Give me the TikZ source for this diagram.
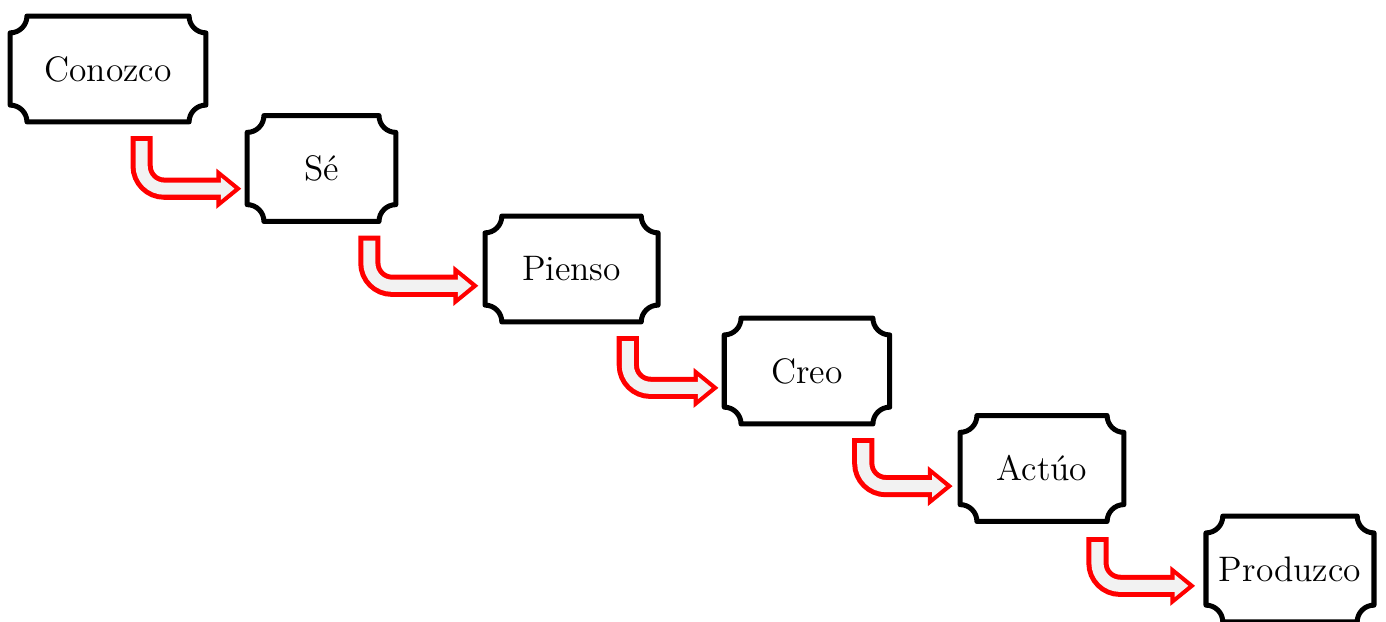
\documentclass[tikz,border=0pt]{standalone}
\usepackage{fontspec}
\usepackage{xcolor}
\usepackage{tikz}
\usetikzlibrary{arrows.meta, positioning}
\tikzset{
    etapa/.style={minimum height=1.26cm, inner sep=0pt, outer sep=0pt, font=\large}, % box holding each step
    borde/.style={draw=black, line width=1.7pt, line join=round}, % concave-cornered outline
}
\tikzstyle{flecha} = [draw=red, line width=7.5pt, line cap=rect, rounded corners=0.27cm,
    -{Triangle[length=8.4pt, width=13.6pt, line width=0pt]},
    postaction={draw=gray!10, line width=4.1pt, shorten >=2.3pt,
        -{Triangle[length=4.6pt, width=7.6pt, line width=0pt]}}]

\begin{document}
\begin{tikzpicture}
    \useasboundingbox (0,0) rectangle (16.5,-7.393);

    \node[etapa, minimum width=2.33cm] (A) at (1.286,-0.821) {Conozco};
    \node[etapa, minimum width=1.77cm] (B) at (3.827,-2.006) {Sé};
    \node[etapa, minimum width=2.06cm] (C) at (6.804,-3.202) {Pienso};
    \node[etapa, minimum width=1.97cm] (D) at (9.607,-4.417) {Creo};
    \node[etapa, minimum width=1.95cm] (E) at (12.405,-5.577) {Actúo};
    \node[etapa, minimum width=2.00cm] (F) at (15.357,-6.774) {Produzco};

    % outlines with concave corners
    \foreach \n in {A,B,C,D,E,F}
        \draw[borde] ([xshift=0.2cm]\n.north west) -- ([xshift=-0.2cm]\n.north east)
            arc[start angle=180, end angle=270, radius=0.2cm]
            -- ([yshift=0.2cm]\n.south east)
            arc[start angle=90, end angle=180, radius=0.2cm]
            -- ([xshift=0.2cm]\n.south west)
            arc[start angle=0, end angle=90, radius=0.2cm]
            -- ([yshift=-0.2cm]\n.north west)
            arc[start angle=270, end angle=360, radius=0.2cm]
            -- cycle;

    \draw[flecha] ([xshift=0.40cm,yshift=-0.30cm]A.south) |- ([xshift=-0.07cm,yshift=-0.24cm]B.west);
    \draw[flecha] ([xshift=0.57cm,yshift=-0.30cm]B.south) |- ([xshift=-0.08cm,yshift=-0.20cm]C.west);
    \draw[flecha] ([xshift=0.67cm,yshift=-0.30cm]C.south) |- ([xshift=-0.07cm,yshift=-0.20cm]D.west);
    \draw[flecha] ([xshift=0.67cm,yshift=-0.30cm]D.south) |- ([xshift=-0.09cm,yshift=-0.21cm]E.west);
    \draw[flecha] ([xshift=0.66cm,yshift=-0.32cm]E.south) |- ([xshift=-0.13cm,yshift=-0.20cm]F.west);
\end{tikzpicture}
\end{document}
